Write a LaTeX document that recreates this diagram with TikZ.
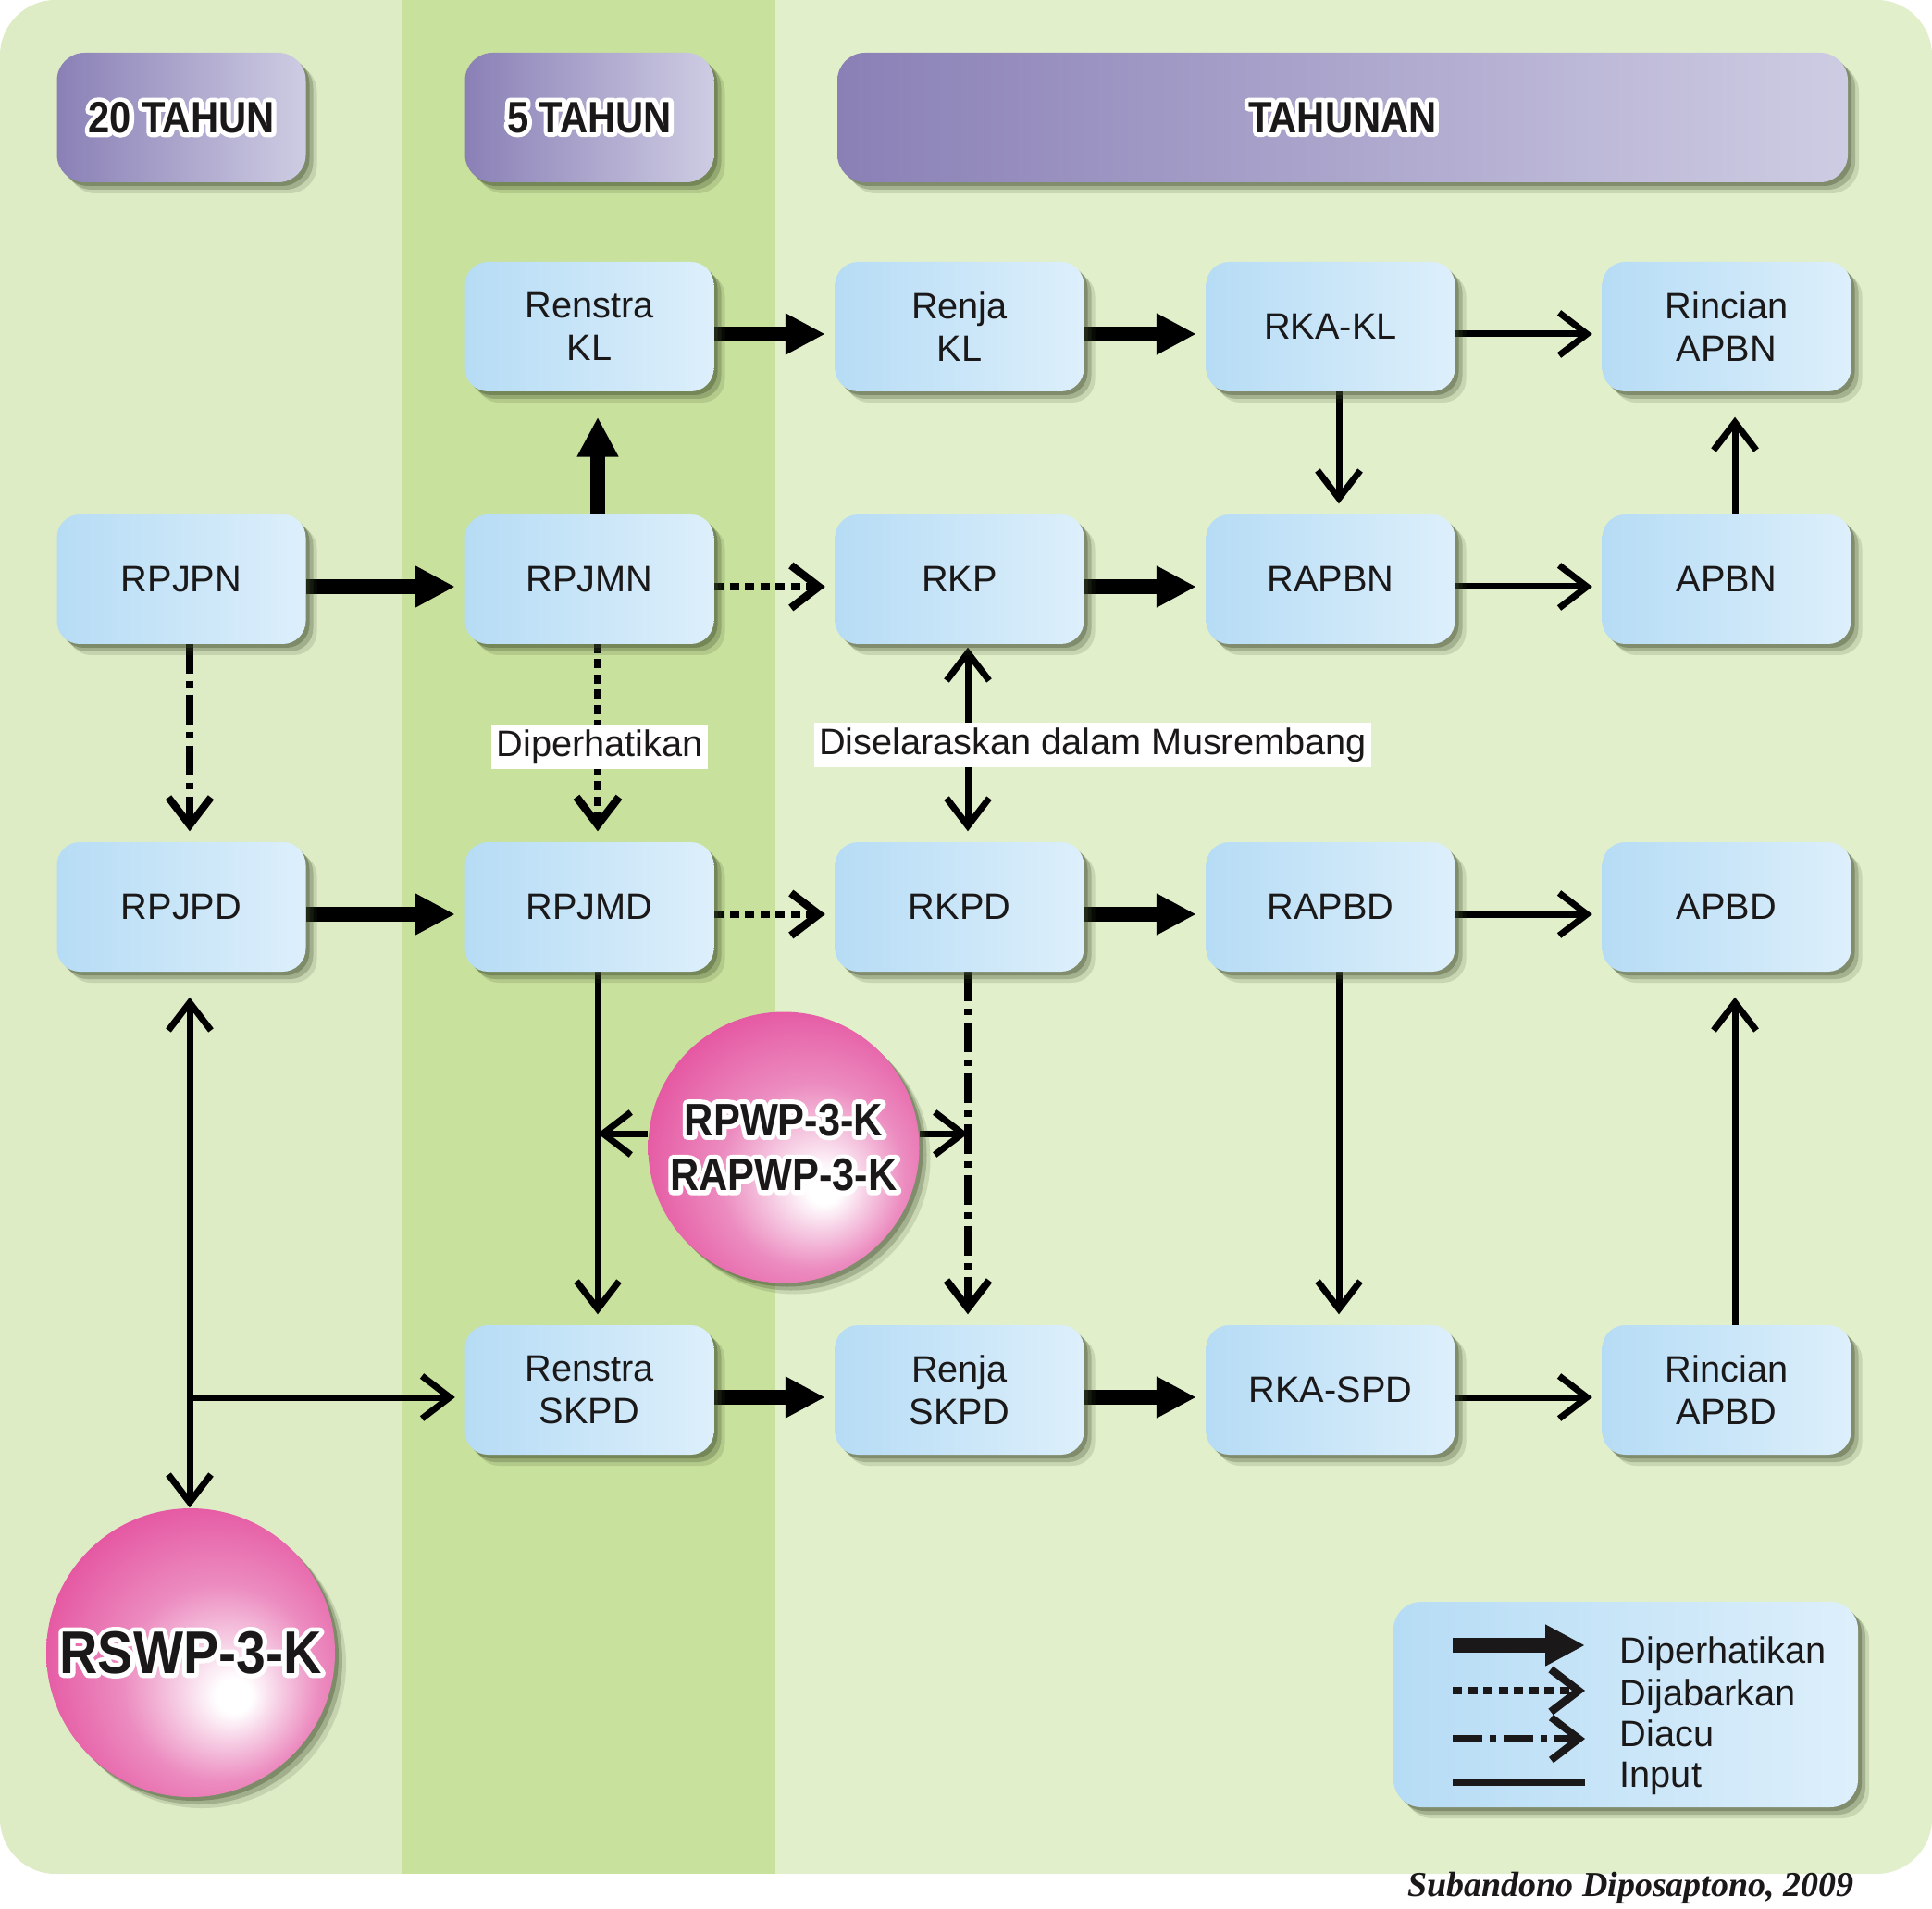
\documentclass[tikz,border=0pt]{standalone}
\usepackage{fontspec}
\setmainfont{Liberation Sans}
\newfontfamily\condfont[FakeStretch=0.88]{Liberation Sans}
\newfontfamily\creditfont{Liberation Serif}
\usepackage{tikz}
\usetikzlibrary{arrows.meta,shapes,positioning,calc,shadows}
\usepackage{xcolor}

\definecolor{bandleft}{RGB}{222,236,198}
\definecolor{bandmid}{RGB}{200,225,157}
\definecolor{bandlight}{RGB}{225,239,203}
\definecolor{boxleft}{RGB}{182,220,245}
\definecolor{boxright}{RGB}{221,239,251}
\definecolor{hdleft}{RGB}{138,128,182}
\definecolor{hdright}{RGB}{206,204,227}
\definecolor{shadowc}{RGB}{60,72,40}
\definecolor{ink}{RGB}{26,24,24}
\definecolor{ballpink}{RGB}{226,66,150}
\definecolor{ballmid}{RGB}{236,140,192}
\definecolor{balllight}{RGB}{246,204,227}

\pgfdeclareradialshading{pinkball}{\pgfpoint{8bp}{-8bp}}{%
  color(0bp)=(white); color(3bp)=(white); color(9bp)=(balllight);
  color(17bp)=(ballmid); color(35bp)=(ballpink); color(50bp)=(ballpink)}

\pgfdeclarelayer{back}
\pgfdeclarelayer{lines}
\pgfsetlayers{back,lines,main}

% white rim round bold labels (stroked glyphs under the filled ones)
\newcommand{\halo}[1]{%
  \leavevmode\rlap{\special{pdf:literal direct q 1 Tr 2.8 w 1 j 1 J 1 1 1 RG}#1\special{pdf:literal direct Q}}%
  #1}

\begin{document}
\begin{tikzpicture}[
    color=ink,
    >={Straight Barb[length=0.3cm,width=0.46cm]},
    softshadow/.style={
        drop shadow={shadow xshift=0.04cm, shadow yshift=-0.04cm, fill=shadowc, opacity=0.35},
        drop shadow={shadow xshift=0.08cm, shadow yshift=-0.08cm, fill=shadowc, opacity=0.25},
        drop shadow={shadow xshift=0.12cm, shadow yshift=-0.12cm, fill=shadowc, opacity=0.15}
    },
    planbox/.style={
        rectangle,
        rounded corners=0.25cm,
        minimum width=2.69cm,
        minimum height=1.40cm,
        left color=boxleft,
        right color=boxright,
        softshadow,
        align=center,
        inner sep=2pt,
        font=\fontsize{11.3}{13.2}\selectfont
    },
    period/.style={
        rectangle,
        rounded corners=0.3cm,
        minimum height=1.40cm,
        left color=hdleft,
        right color=hdright,
        softshadow,
        font=\condfont\bfseries\fontsize{13.5}{16}\selectfont
    },
    ball/.style={
        circle,
        shading=pinkball,
        softshadow,
        align=center,
        inner sep=0pt,
        font=\condfont\bfseries\fontsize{14}{17}\selectfont
    },
    note/.style={fill=white, inner sep=1.5pt, font=\fontsize{11.3}{13.2}\selectfont},
    legtext/.style={anchor=base west, inner sep=0pt, font=\fontsize{11.3}{13.2}\selectfont},
    link/.style={transform canvas={xshift=0.09cm, yshift=-0.08cm},
        shorten <=-0.09cm, shorten >=0.19cm},
    diperhatikan/.style={line width=0.16cm, -{Triangle[length=0.43cm,width=0.42cm]}},
    dijabarkan/.style={line width=0.085cm, dash pattern=on 0.1cm off 0.065cm, ->},
    diacu/.style={line width=0.08cm,
        dash pattern=on 0.32cm off 0.08cm on 0.07cm off 0.08cm, ->},
    input/.style={line width=0.07cm}
]

\useasboundingbox (0,0) rectangle (20.88,-20.62);

\begin{pgfonlayer}{back}
    \fill[white] (0,0) rectangle (20.88,-20.62);
    \begin{scope}
        \clip[rounded corners=0.6cm] (0,0) rectangle (20.88,-20.25);
        \fill[bandleft] (0,0) rectangle (4.35,-20.25);
        \fill[bandmid] (4.35,0) rectangle (8.38,-20.25);
        \fill[bandlight] (8.38,0) rectangle (20.88,-20.25);
    \end{scope}
\end{pgfonlayer}

% time spans
\node[period, minimum width=2.69cm] (p20) at (1.96,-1.27) {\halo{20 TAHUN}};
\node[period, minimum width=2.69cm] (p5) at (6.37,-1.27) {\halo{5 TAHUN}};
\node[period, minimum width=10.92cm] (pyear) at (14.51,-1.27) {\halo{TAHUNAN}};

% plan documents
\node[planbox] (RenstraKL) at (6.37,-3.53) {Renstra\\KL};
\node[planbox] (RenjaKL) at (10.37,-3.53) {Renja\\KL};
\node[planbox] (RKAKL) at (14.38,-3.53) {RKA-KL};
\node[planbox] (RincianAPBN) at (18.66,-3.53) {Rincian\\APBN};

\node[planbox] (RPJPN) at (1.96,-6.26) {RPJPN};
\node[planbox] (RPJMN) at (6.37,-6.26) {RPJMN};
\node[planbox] (RKP) at (10.37,-6.26) {RKP};
\node[planbox] (RAPBN) at (14.38,-6.26) {RAPBN};
\node[planbox] (APBN) at (18.66,-6.26) {APBN};

\node[planbox] (RPJPD) at (1.96,-9.80) {RPJPD};
\node[planbox] (RPJMD) at (6.37,-9.80) {RPJMD};
\node[planbox] (RKPD) at (10.37,-9.80) {RKPD};
\node[planbox] (RAPBD) at (14.38,-9.80) {RAPBD};
\node[planbox] (APBD) at (18.66,-9.80) {APBD};

\node[planbox] (RenstraSKPD) at (6.37,-15.02) {Renstra\\SKPD};
\node[planbox] (RenjaSKPD) at (10.37,-15.02) {Renja\\SKPD};
\node[planbox] (RKASPD) at (14.38,-15.02) {RKA-SPD};
\node[planbox] (RincianAPBD) at (18.66,-15.02) {Rincian\\APBD};

% coastal plans
\node[ball, minimum size=2.93cm] (RPWP) at (8.47,-12.40) {\halo{RPWP-3-K}\\\halo{RAPWP-3-K}};
\node[ball, minimum size=3.12cm, font=\condfont\bfseries\fontsize{18.5}{21}\selectfont]
    (RSWP) at (2.06,-17.86) {\halo{RSWP-3-K}};

\node[note] (lbdiper) at (6.48,-8.07) {Diperhatikan};
\node[note] (lbselaras) at (11.81,-8.05) {Diselaraskan dalam Musrembang};

\begin{pgfonlayer}{lines}
    % Diperhatikan
    \draw[diperhatikan, link] (RenstraKL) -- (RenjaKL);
    \draw[diperhatikan, link] (RenjaKL) -- (RKAKL);
    \draw[diperhatikan, link] (RPJMN) -- (RenstraKL);
    \draw[diperhatikan, link] (RPJPN) -- (RPJMN);
    \draw[diperhatikan, link] (RKP) -- (RAPBN);
    \draw[diperhatikan, link] (RPJPD) -- (RPJMD);
    \draw[diperhatikan, link] (RKPD) -- (RAPBD);
    \draw[diperhatikan, link] (RenstraSKPD) -- (RenjaSKPD);
    \draw[diperhatikan, link] (RenjaSKPD) -- (RKASPD);
    % Dijabarkan
    \draw[dijabarkan, link] (RPJMN) -- (RKP);
    \draw[dijabarkan, link] (RPJMN) -- (RPJMD);
    \draw[dijabarkan, link] (RPJMD) -- (RKPD);
    % Diacu
    \draw[diacu, link] (RPJPN) -- (RPJPD);
    \draw[diacu, link] (RKPD) -- (RenjaSKPD);
    % Input
    \draw[input, ->, link] (RKAKL) -- (RincianAPBN);
    \draw[input, ->, link] (RKAKL) -- (RAPBN);
    \draw[input, ->, link] (APBN) -- (RincianAPBN);
    \draw[input, ->, link] (RAPBN) -- (APBN);
    \draw[input, <->, link, shorten <=-0.05cm] (RKP) -- (RKPD);
    \draw[input, ->, link] (RAPBD) -- (APBD);
    \draw[input, ->, link] (RPJMD) -- (RenstraSKPD);
    \draw[input, ->, link] (RAPBD) -- (RKASPD);
    \draw[input, ->, link] (RincianAPBD) -- (APBD);
    \draw[input, ->, link] (RKASPD) -- (RincianAPBD);
    \draw[input, <->, link, shorten <=0.19cm, shorten >=0.08cm]
        (RPJPD.south) -- (RPJPD.south |- RSWP.north);
    \draw[input, ->, link, shorten <=0cm] (RPJPD.south |- RenstraSKPD.west) -- (RenstraSKPD.west);
    \draw[input, ->] ($(RPWP.west)+(0,0.15)$) -- ($(RPJMD.south |- RPWP.west)+(0.09,0.15)$);
    \draw[input, ->] ($(RPWP.east)+(0,0.15)$) -- ($(RKPD.south |- RPWP.east)+(0.09,0.15)$);
\end{pgfonlayer}

% legend
\node[planbox, rounded corners=0.3cm, minimum width=5.02cm, minimum height=2.22cm]
    (legend) at (17.57,-18.42) {};
\foreach \n/\sty/\ya/\yb/\txt in {1/diperhatikan/-17.78/-17.97/Diperhatikan,
        2/dijabarkan/-18.27/-18.43/Dijabarkan,
        3/diacu/-18.79/-18.87/Diacu,
        4/input/-19.26/-19.31/Input} {
    \coordinate (lgs\n) at (15.70,\ya);
    \coordinate (lge\n) at (17.13,\ya);
    \draw[\sty] (lgs\n) -- (lge\n);
    \node[legtext] (lgt\n) at (17.50,\yb) {\txt};
}

\node[anchor=east, inner sep=0pt, font=\creditfont\bfseries\itshape\fontsize{10.8}{13}\selectfont]
    (credit) at (20.04,-20.40) {Subandono Diposaptono, 2009};

\end{tikzpicture}
\end{document}
